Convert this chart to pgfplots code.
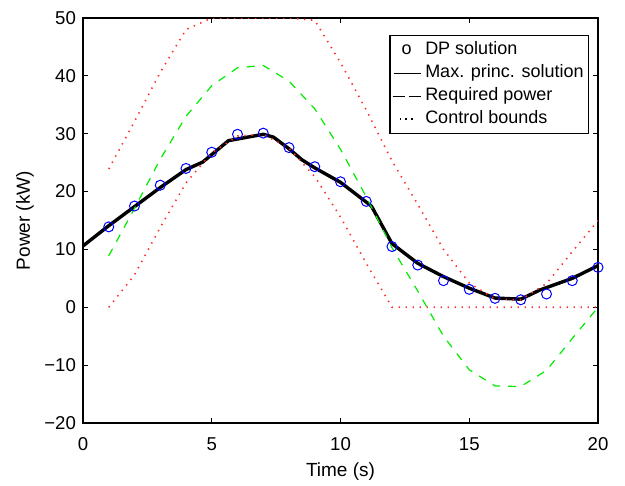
\documentclass[border=0pt]{standalone}
\usepackage{fontspec}
\setmainfont{Liberation Sans}
\usepackage{pgfplots}
\pgfplotsset{compat=1.18}
\definecolor{bndred}{RGB}{255,45,45}
\definecolor{reqgreen}{RGB}{0,235,0}
\begin{document}
\begin{tikzpicture}
\path[use as bounding box] (-41.5pt,-31.5pt) rectangle (271pt,211.5pt);
\begin{axis}[
  at={(0pt,0pt)}, anchor=south west,
  scale only axis, width=257.5pt, height=202.5pt,
  xmin=0, xmax=20, ymin=-20, ymax=50,
  xtick={0,5,10,15,20}, ytick={-20,-10,0,10,20,30,40,50},
  yticklabels={−20,−10,0,10,20,30,40,50},
  tick align=inside, major tick length=2.6pt,
  every tick/.style={black, line width=0.5pt},
  axis line style={line width=0.9pt},
  /pgf/number format/assume math mode=true,
  tick label style={font=\fontsize{9.3}{11}\selectfont},
  xticklabel style={yshift=-3.6pt},
  label style={font=\fontsize{9.5}{11}\selectfont},
  xlabel={Time (s)}, ylabel={Power (kW)},
  xlabel style={at={(axis description cs:0.5,-0.121)}, anchor=center},
  ylabel style={at={(axis description cs:-0.1126,0.5)}, anchor=center},
  legend style={at={(0.983,0.958)}, anchor=north east, draw=black, line width=0.6pt,
    fill=white, font=\fontsize{9}{11}\selectfont, inner xsep=1pt, inner ysep=1.5pt,
    nodes={inner sep=1.5pt, text height=6.5pt, text depth=2pt}, cells={anchor=west}},
]
% Max. principle solution
\addplot[black, line width=1.7pt, line join=round, forget plot] coordinates {
(0,10.6) (1,14.1) (2,17.4) (3,20.7) (4,23.8) (4.65,25.1) (5.65,28.8) (7,29.9)
(7.4,29.4) (8,27.4) (8.5,25.5) (9,24.1) (10,21.6) (11.2,17.5) (12,11.0)
(13,7.6) (14,5.3) (15,3.3) (16,1.6) (17,1.4) (17.75,3.0) (19,5.0) (20,7.2)};
% DP solution
\addplot[blue, only marks, mark=o, mark size=2.5pt, mark options={line width=0.5pt}, forget plot] coordinates {
(1,13.9) (2,17.5) (3,21.1) (4,24.0) (5,26.8) (6,29.9) (7,30.1) (8,27.6) (9,24.3) (10,21.7)
(11,18.3) (12,10.5) (13,7.3) (14,4.6) (15,3.1) (16,1.55) (17,1.3) (18,2.3) (19,4.6) (20,6.9)};
% Required power
\addplot[reqgreen, line width=0.6pt, dash pattern=on 4pt off 4pt, forget plot] coordinates {
(1,8.9) (2,17.1) (3,25.6) (4,33.0) (5,38.3) (6,41.4) (7,41.8) (8,39.1) (9,34.3) (10,27.3)
(11,19.1) (12,10.3) (13,2.8) (14,-5.0) (15,-10.8) (16,-13.6) (17,-13.7) (18,-10.9) (19,-5.4) (20,0.0)};
% Control bounds (upper)
\addplot[bndred, line width=0.8pt, dash pattern=on 0.7pt off 2.8pt, forget plot] coordinates {
(1,23.9) (2,32.1) (3,40.6) (4,48.0) (5,50) (6,50) (7,50) (8,50) (9,49.6) (10,42.3)
(11,34.1) (12,25.3) (13,17.8) (14,10.0) (15,4.2) (16,1.4) (17,1.3) (18,4.1) (19,9.6) (20,15.0)};
% Control bounds (lower)
\addplot[bndred, line width=0.8pt, dash pattern=on 0.7pt off 2.8pt, forget plot] coordinates {
(1,0) (2,5.6) (3,13.8) (4,21.5) (5,26.7) (6,29.6) (7,29.9) (8,27.5) (9,22.6) (10,15.6)
(11,7.6) (12,0) (13,0) (14,0) (15,0) (16,0) (17,0) (18,0) (19,0) (20,0)};
\addlegendimage{legend image code/.code={\node[inner sep=0pt, anchor=center, font=\fontsize{9}{11}\selectfont] at (7pt,0.3pt) {o};}}
\addlegendimage{legend image code/.code={\draw[black, line width=0.5pt] (0.5pt,0pt) -- (14pt,0pt);}}
\addlegendimage{legend image code/.code={\draw[black, line width=0.6pt, dash pattern=on 6pt off 2.4pt] (0pt,0pt) -- (14.5pt,0pt);}}
\addlegendimage{legend image code/.code={\draw[black, line width=0.9pt, dash pattern=on 0.9pt off 2pt] (3.5pt,0pt) -- (11.5pt,0pt);}}
\legend{DP solution, Max. princ. solution, Required power, Control bounds}
\end{axis}
\end{tikzpicture}
\end{document}
